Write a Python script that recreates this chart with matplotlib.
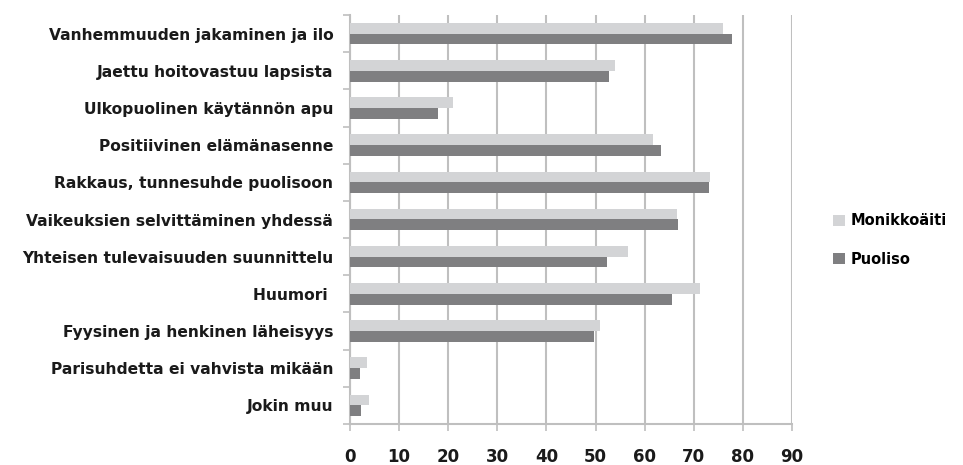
import numpy as np
import matplotlib.pyplot as plt

plt.rcParams['font.family'] = ['DejaVu Sans']

kategoriat = [
    "Vanhemmuuden jakaminen ja ilo",
    "Jaettu hoitovastuu lapsista",
    "Ulkopuolinen käytännön apu",
    "Positiivinen elämänasenne",
    "Rakkaus, tunnesuhde puolisoon",
    "Vaikeuksien selvittäminen yhdessä",
    "Yhteisen tulevaisuuden suunnittelu",
    "Huumori ",
    "Fyysinen ja henkinen läheisyys",
    "Parisuhdetta ei vahvista mikään",
    "Jokin muu",
]
monikkoaiti = [76.0, 53.9, 21.0, 61.6, 73.4, 66.6, 56.7, 71.3, 51.0, 3.5, 3.8]
puoliso = [77.8, 52.8, 17.9, 63.4, 73.2, 66.8, 52.3, 65.5, 49.7, 2.0, 2.3]

vaalea = '#d3d4d6'
tumma = '#7f7f81'
harmaa = '#bfbfbf'

fig = plt.figure(figsize=(9.63, 4.65), dpi=100)
ax = fig.add_axes([350 / 963, 1 - 424 / 465, 442 / 963, 409 / 465])

n = len(kategoriat)
y = np.arange(n)
h = 0.29
ax.barh(y - h / 2, monikkoaiti, height=h, color=vaalea, label='Monikkoäiti', zorder=3)
ax.barh(y + h / 2, puoliso, height=h, color=tumma, label='Puoliso', zorder=3)

ax.set_xlim(0, 90)
ax.set_ylim(n - 0.5, -0.5)
ax.set_xticks(np.arange(0, 91, 10))
ax.xaxis.grid(True, color=harmaa, linewidth=1.5, zorder=0)
ax.tick_params(axis='x', length=5, width=1.2, color=harmaa, labelsize=12, pad=12)
for t in ax.get_xticklabels():
    t.set_fontweight('bold')
    t.set_color('#1a1a1a')

# rajat ryhmien välissä, nimet keskellä
ax.set_yticks(np.arange(-0.5, n, 1))
ax.set_yticklabels([])
ax.tick_params(axis='y', which='major', length=5, width=1.2, color=harmaa)
ax.set_yticks(y, minor=True)
ax.set_yticklabels(kategoriat, minor=True, fontweight='bold', fontsize=11.2, color='#1a1a1a')
ax.tick_params(axis='y', which='minor', length=0, pad=12)

for s in ['top', 'right']:
    ax.spines[s].set_visible(False)
for s in ['left', 'bottom']:
    ax.spines[s].set_color(harmaa)
    ax.spines[s].set_linewidth(1.5)

leg = fig.legend(loc='center left', bbox_to_anchor=(820 / 963, 1 - 240 / 465), frameon=False,
                 prop={'weight': 'bold', 'size': 10.5}, handlelength=0.8, handleheight=0.8,
                 handletextpad=0.4, labelspacing=1.6)

fig.savefig('out.png', dpi=100)
